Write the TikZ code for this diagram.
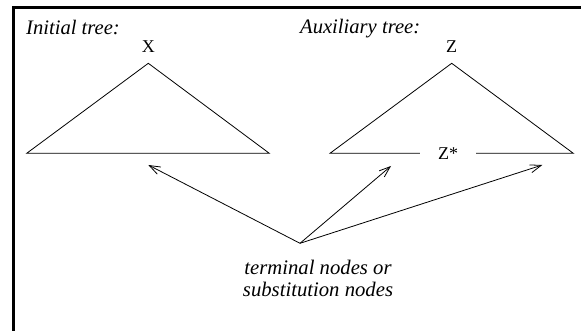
\documentclass[tikz,border=0pt]{standalone}
\usepackage{fontspec}
\setmainfont{Liberation Serif}
\usetikzlibrary{positioning,arrows.meta}

\begin{document}
\begin{tikzpicture}[x=1pt,y=-1pt]

    \tikzset{
      edge/.style={
        draw=black,
        line width=0.8pt,
      },
      pointer/.style={
        edge,
        -{Straight Barb[length=11pt,width=8pt]},
      },
      title/.style={
        anchor=base west,
        inner sep=0pt,
        font=\fontsize{20.6}{23}\selectfont\itshape,
      },
      rootname/.style={
        inner sep=0pt,
        font=\fontsize{18}{20}\selectfont,
      },
      note/.style={
        anchor=base,
        align=center,
        inner sep=0pt,
        font=\fontsize{20.7}{22.7}\selectfont\itshape,
      },
    }
    \useasboundingbox (0,0) rectangle (581,331);

	% frame
	\draw[line width=3.3pt] (13.8,331)--(13.8,7.6)--(581,7.6);

	% titles
	\node[title] (initial) at (26,35) {Initial tree:};
	\node[title] (auxiliary) at (300,34) {Auxiliary tree:};

	% initial tree
	\coordinate (xtop) at (148.3,63.3);
	\coordinate (xleft) at (26.7,153.3);
	\coordinate (xright) at (269.3,153.3);
	\draw[edge] (xleft)--(xtop)--(xright)--cycle;
	\node[rootname,above=10.5pt of xtop] (xroot) {X};

	% auxiliary tree
	\coordinate (ztop) at (451.7,63.3);
	\coordinate (zleft) at (330,153.3);
	\coordinate (zright) at (573.3,153.3);
	\node[rootname,above=10.5pt of ztop] (zroot) {Z};
	\node[rootname,minimum width=56pt] (zfoot) at (448,154) {Z*};
	\draw[edge] (zleft -| zfoot.west)--(zleft)--(ztop)--(zright)--(zright -| zfoot.east);

	% pointers
	\coordinate (fan) at (300,243.3);
	\coordinate (tipa) at (148.3,165);
	\coordinate (tipb) at (391,166);
	\coordinate (tipc) at (542.3,165);
	\draw[pointer] (fan)--(tipa);
	\draw[pointer] (fan)--(tipb);
	\draw[pointer] (fan)--(tipc);
	\node[note] (leaves) at (318,296.7) {terminal nodes or\\substitution nodes};

\end{tikzpicture}
\end{document}
